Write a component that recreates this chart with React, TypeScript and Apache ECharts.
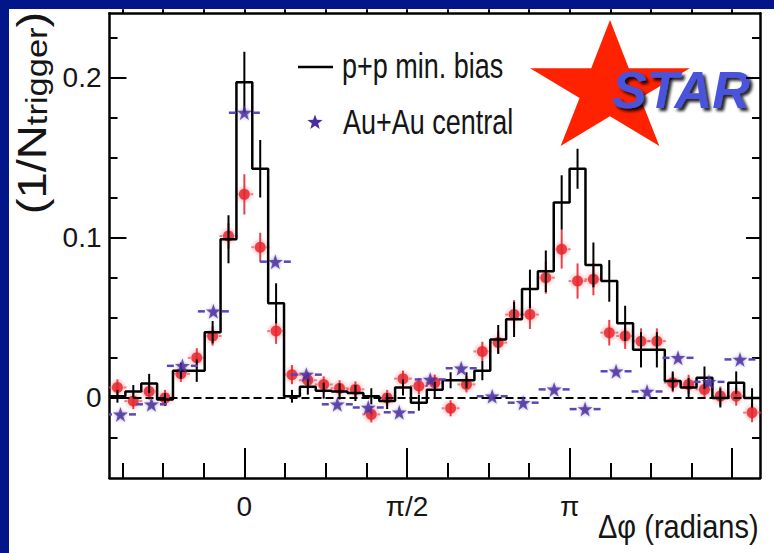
import React, { useEffect, useRef } from 'react';
import * as echarts from 'echarts';

const PI = Math.PI;

// p+p min. bias histogram: 41 bins over 2π, bin index -8 .. 32 (bin 0 centred on Δφ = 0)
const ppFirstBin = -8;
const ppValues = [
  0.001, 0.004, 0.009, -0.001, 0.017, 0.017, 0.041, 0.099, 0.197, 0.143,
  0.059, 0.001, 0.007, 0.0045, 0.004, 0.003, 0.001, -0.002, 0.0065, -0.003,
  0.005, 0.011, 0.011, 0.017, 0.0365, 0.049, 0.068, 0.079, 0.122, 0.143,
  0.083, 0.073, 0.0465, 0.030, 0.030, 0.0105, 0.0064, 0.0126, 0.0, 0.0095,
  0.0,
];
const ppErrors = [
  0.004, 0.004, 0.006, 0.004, 0.005, 0.007, 0.007, 0.015, 0.019, 0.018,
  0.0125, 0.004, 0.005, 0.005, 0.005, 0.005, 0.005, 0.005, 0.005, 0.005,
  0.005, 0.005, 0.005, 0.006, 0.009, 0.011, 0.012, 0.013, 0.017, 0.0125,
  0.014, 0.013, 0.011, 0.011, 0.011, 0.006, 0.006, 0.007, 0.006, 0.007,
  0.006,
];

// red circles (same binning as p+p)
const redValues = [
  0.0065, -0.002, 0.004, 0.0, 0.015, 0.025, 0.0386, 0.101, 0.127, 0.094,
  0.0417, 0.0145, 0.011, 0.0084, 0.006, 0.0053, -0.0103, 0.0, 0.012, 0.0074,
  0.0095, -0.0065, 0.0084, 0.029, 0.0345, 0.052, 0.052, 0.075, 0.0927, 0.0729,
  0.074, 0.0407, 0.0386, 0.0354, 0.0354, 0.0095, 0.0084, 0.0053, 0.0011, 0.0011,
  -0.0092,
];
const redErrors = [
  0.005, 0.005, 0.005, 0.005, 0.005, 0.006, 0.006, 0.008, 0.0125, 0.009,
  0.008, 0.006, 0.005, 0.005, 0.005, 0.005, 0.005, 0.005, 0.005, 0.005,
  0.005, 0.005, 0.005, 0.006, 0.007, 0.009, 0.009, 0.01, 0.012, 0.011,
  0.01, 0.008, 0.008, 0.008, 0.008, 0.006, 0.006, 0.006, 0.006, 0.006,
  0.006,
];

// Au+Au central stars: 21 bins over 2π, bin index -4 .. 16
const auFirstBin = -4;
const auValues = [
  -0.0103, -0.004, 0.020, 0.054, 0.178, 0.085, 0.0145, -0.004, -0.006, -0.009,
  0.0115, 0.0185, 0.001, -0.003, 0.0053, -0.007, 0.0166, 0.004, 0.025, 0.010,
  0.024,
];

const xMajorTicks = [0, PI / 2, PI, (3 * PI) / 2];
const xLabelTicks = [0, PI / 2, PI];
const xLabelTexts = ['0', 'π/2', 'π'];
const yMajorTicks = [0, 0.1, 0.2];
const yLabelTexts = ['0', '0.1', '0.2'];
const yMin = -0.05;
const yMax = 0.24;

const SANS = "'Liberation Sans', Arial, Helvetica, sans-serif";

function starPoints(cx: number, cy: number, R: number, r: number, sy: number) {
  const pts: number[][] = [];
  for (let i = 0; i < 10; i++) {
    const rad = i % 2 === 0 ? R : r;
    const a = -PI / 2 + (i * PI) / 5;
    pts.push([cx + rad * Math.cos(a), cy + rad * Math.sin(a) * sy]);
  }
  return pts;
}

const STAR_PATH = 'path://M50,0 L61.2,34.5 L97.6,34.5 L68.2,55.9 L79.4,90.5 L50,69.1 L20.6,90.5 L31.8,55.9 L2.4,34.5 L38.8,34.5 Z';

export default function App() {
  const ref = useRef<HTMLDivElement>(null);

  useEffect(() => {
    if (!ref.current) return;
    const chart = echarts.init(ref.current, undefined, { renderer: 'svg' });

    const w = (2 * PI) / 41;
    const W = (2 * PI) / 21;
    const xMin = (ppFirstBin - 0.5) * w;
    const xMax = xMin + 2 * PI;

    const stepData: number[][] = [];
    const ppErrData: number[][] = [];
    const redData: number[][] = [];
    ppValues.forEach((v, i) => {
      const xc = (ppFirstBin + i) * w;
      stepData.push([xc - w / 2, v], [xc + w / 2, v]);
      ppErrData.push([xc, v, ppErrors[i]]);
    });
    redValues.forEach((v, i) => {
      const xc = (ppFirstBin + i) * w;
      redData.push([xc, v, redErrors[i]]);
    });
    const auData = auValues.map((v, j) => [(auFirstBin + j) * W, v, W / 2]);

    const minorX: number[] = [];
    for (let k = -8; k <= 16; k++) {
      const t = (k * PI) / 8;
      if (t > xMin + 1e-6 && t < xMax - 1e-6) minorX.push(t);
    }
    const minorY: number[] = [];
    for (let k = -1; k <= 9; k++) {
      const t = k * 0.025;
      if (t > yMin + 1e-6 && t < yMax - 1e-6) minorY.push(t);
    }

    const black = '#000';
    const axisLine = { show: true, onZero: false, lineStyle: { color: black, width: 2.5 } };
    const noLine = { show: false, onZero: false };

    const baseX = { type: 'value' as const, min: xMin, max: xMax, splitLine: { show: false } };
    const baseY = { type: 'value' as const, min: yMin, max: yMax, splitLine: { show: false } };

    const txt = (text: string, x: number, y: number, fontSize: number, scaleY: number) => ({
      type: 'text',
      x,
      y,
      scaleY,
      style: {
        text,
        fontSize,
        fontFamily: SANS,
        fill: '#151515',
        align: 'left',
        verticalAlign: 'middle',
        textAlign: 'left',
        textVerticalAlign: 'middle',
      },
    });

    const option: any = {
      animation: false,
      backgroundColor: '#02168a',
      grid: { left: 109.5, right: 14, top: 13.3, bottom: 75, containLabel: false },
      xAxis: [
        {
          ...baseX,
          position: 'bottom',
          axisLine,
          axisTick: { show: true, inside: true, length: 30, customValues: xMajorTicks, lineStyle: { color: black, width: 2 } },
          axisLabel: {
            show: true,
            customValues: xLabelTicks,
            margin: 14,
            color: '#151515',
            fontSize: 28,
            fontFamily: SANS,
            formatter: (v: number) => {
              const i = xLabelTicks.findIndex((t) => Math.abs(t - v) < 1e-6);
              return i >= 0 ? xLabelTexts[i] : '';
            },
          },
        },
        {
          ...baseX,
          position: 'bottom',
          axisLine: noLine,
          axisTick: { show: true, inside: true, length: 15, customValues: minorX, lineStyle: { color: black, width: 2 } },
          axisLabel: { show: false },
        },
        {
          ...baseX,
          position: 'top',
          axisLine,
          axisTick: { show: true, inside: false, length: 4, customValues: minorX, lineStyle: { color: black, width: 2 } },
          axisLabel: { show: false },
        },
      ],
      yAxis: [
        {
          ...baseY,
          position: 'left',
          axisLine,
          axisTick: { show: true, inside: true, length: 17, customValues: yMajorTicks, lineStyle: { color: black, width: 2 } },
          axisLabel: {
            show: true,
            customValues: yMajorTicks,
            margin: 8,
            color: '#151515',
            fontSize: 28,
            fontFamily: SANS,
            formatter: (v: number) => {
              const i = yMajorTicks.findIndex((t) => Math.abs(t - v) < 1e-6);
              return i >= 0 ? yLabelTexts[i] : '';
            },
          },
        },
        {
          ...baseY,
          position: 'left',
          axisLine: noLine,
          axisTick: { show: true, inside: true, length: 8, customValues: minorY, lineStyle: { color: black, width: 2 } },
          axisLabel: { show: false },
        },
        {
          ...baseY,
          position: 'right',
          axisLine,
          axisTick: { show: true, inside: true, length: 8, customValues: minorY, lineStyle: { color: black, width: 2 } },
          axisLabel: { show: false },
        },
        {
          ...baseY,
          position: 'right',
          axisLine: noLine,
          axisTick: { show: true, inside: true, length: 14, customValues: yMajorTicks, lineStyle: { color: black, width: 2 } },
          axisLabel: { show: false },
        },
      ],
      series: [
        {
          type: 'custom',
          name: 'red-err',
          z: 2,
          clip: true,
          data: redData,
          renderItem: (_p: any, api: any) => {
            const x = api.value(0);
            const y = api.value(1);
            const e = api.value(2);
            const c = api.coord([x, y]);
            const t = api.coord([x, y + e]);
            const b = api.coord([x, y - e]);
            const col = 'rgba(228,30,40,0.85)';
            const soft = 'rgba(235,70,80,0.65)';
            return {
              type: 'group',
              children: [
                { type: 'line', shape: { x1: t[0], y1: t[1], x2: b[0], y2: b[1] }, style: { stroke: col, lineWidth: 2 } },
                { type: 'line', shape: { x1: c[0] - 9, y1: c[1], x2: c[0] - 6, y2: c[1] }, style: { stroke: soft, lineWidth: 2 } },
                { type: 'line', shape: { x1: c[0] + 6, y1: c[1], x2: c[0] + 9, y2: c[1] }, style: { stroke: soft, lineWidth: 2 } },
              ],
            };
          },
        },
        {
          type: 'scatter',
          name: 'red',
          z: 2,
          symbol: 'circle',
          symbolSize: 11,
          data: redData.map((d) => [d[0], d[1]]),
          itemStyle: { color: '#e8222c', shadowBlur: 5, shadowColor: 'rgba(232,34,44,0.7)' },
        },
        {
          type: 'line',
          name: 'p+p min. bias',
          z: 3,
          data: stepData,
          symbol: 'none',
          lineStyle: { color: black, width: 2.5 },
          markLine: {
            silent: true,
            symbol: 'none',
            label: { show: false },
            lineStyle: { color: black, type: [8, 4], width: 2 },
            data: [{ yAxis: 0 }],
          },
        },
        {
          type: 'custom',
          name: 'pp-err',
          z: 3,
          clip: true,
          data: ppErrData,
          renderItem: (_p: any, api: any) => {
            const x = api.value(0);
            const y = api.value(1);
            const e = api.value(2);
            const t = api.coord([x, y + e]);
            const b = api.coord([x, y - e]);
            return { type: 'line', shape: { x1: t[0], y1: t[1], x2: b[0], y2: b[1] }, style: { stroke: black, lineWidth: 2 } };
          },
        },
        {
          type: 'custom',
          name: 'au-dash',
          z: 4,
          clip: true,
          data: auData,
          renderItem: (_p: any, api: any) => {
            const x = api.value(0);
            const y = api.value(1);
            const h = api.value(2);
            const l1 = api.coord([x - h, y]);
            const l2 = api.coord([x - 0.55 * h, y]);
            const r1 = api.coord([x + 0.55 * h, y]);
            const r2 = api.coord([x + h, y]);
            const col = '#5a46b4';
            return {
              type: 'group',
              children: [
                { type: 'line', shape: { x1: l1[0], y1: l1[1], x2: l2[0], y2: l2[1] }, style: { stroke: col, lineWidth: 2.5 } },
                { type: 'line', shape: { x1: r1[0], y1: r1[1], x2: r2[0], y2: r2[1] }, style: { stroke: col, lineWidth: 2.5 } },
              ],
            };
          },
        },
        {
          type: 'scatter',
          name: 'Au+Au central',
          z: 5,
          symbol: STAR_PATH,
          symbolSize: 15,
          data: auData.map((d) => [d[0], d[1]]),
          itemStyle: { color: '#4a2e9e', shadowBlur: 3, shadowColor: 'rgba(74,46,158,0.6)' },
        },
      ],
      graphic: [
        { type: 'rect', z: -10, silent: true, shape: { x: 9, y: 9, width: 765, height: 544 }, style: { fill: '#ffffff' } },
        {
          type: 'text',
          x: 32,
          y: 113,
          rotation: PI / 2,
          scaleX: 1.15,
          style: {
            text: '{a|(1/N}{b|trigger}{a|)}',
            align: 'center',
            verticalAlign: 'middle',
            textAlign: 'center',
            textVerticalAlign: 'middle',
            fill: '#151515',
            rich: {
              a: { fontSize: 41, fontFamily: SANS, fill: '#151515', color: '#151515' },
              b: { fontSize: 30, fontFamily: SANS, fill: '#151515', color: '#151515', padding: [10, 0, 0, 0] },
            },
          },
        },
        { type: 'line', shape: { x1: 298, y1: 67, x2: 333, y2: 67 }, style: { stroke: black, lineWidth: 2.5 } },
        txt('p+p min. bias', 342, 66, 27, 1.3),
        { type: 'polygon', shape: { points: starPoints(315, 122.5, 8, 3.3, 1) }, style: { fill: '#4a2e9e' } },
        txt('Au+Au central', 343, 122, 27, 1.3),
        { type: 'polygon', shape: { points: starPoints(610, 89.7, 84, 32, 0.83) }, style: { fill: '#ff2200' } },
        {
          type: 'text',
          x: 612,
          y: 90,
          style: {
            text: 'STAR',
            fontSize: 52,
            fontWeight: 'bold',
            fontStyle: 'italic',
            fontFamily: SANS,
            fill: '#4a52dc',
            align: 'left',
            verticalAlign: 'middle',
            textAlign: 'left',
            textVerticalAlign: 'middle',
            textShadowColor: 'rgba(0,0,0,0.85)',
            textShadowBlur: 3,
            textShadowOffsetX: 3,
            textShadowOffsetY: 3,
          },
        },
        txt('Δφ (radians)', 598, 527, 29, 1.15),
      ],
    };

    chart.setOption(option);
    return () => chart.dispose();
  }, []);

  return (
    <div style={{ position: 'absolute', left: 0, top: 0, width: 774, height: 553, background: '#02168a' }}>
      <div ref={ref} style={{ width: 774, height: 553 }} />
    </div>
  );
}
